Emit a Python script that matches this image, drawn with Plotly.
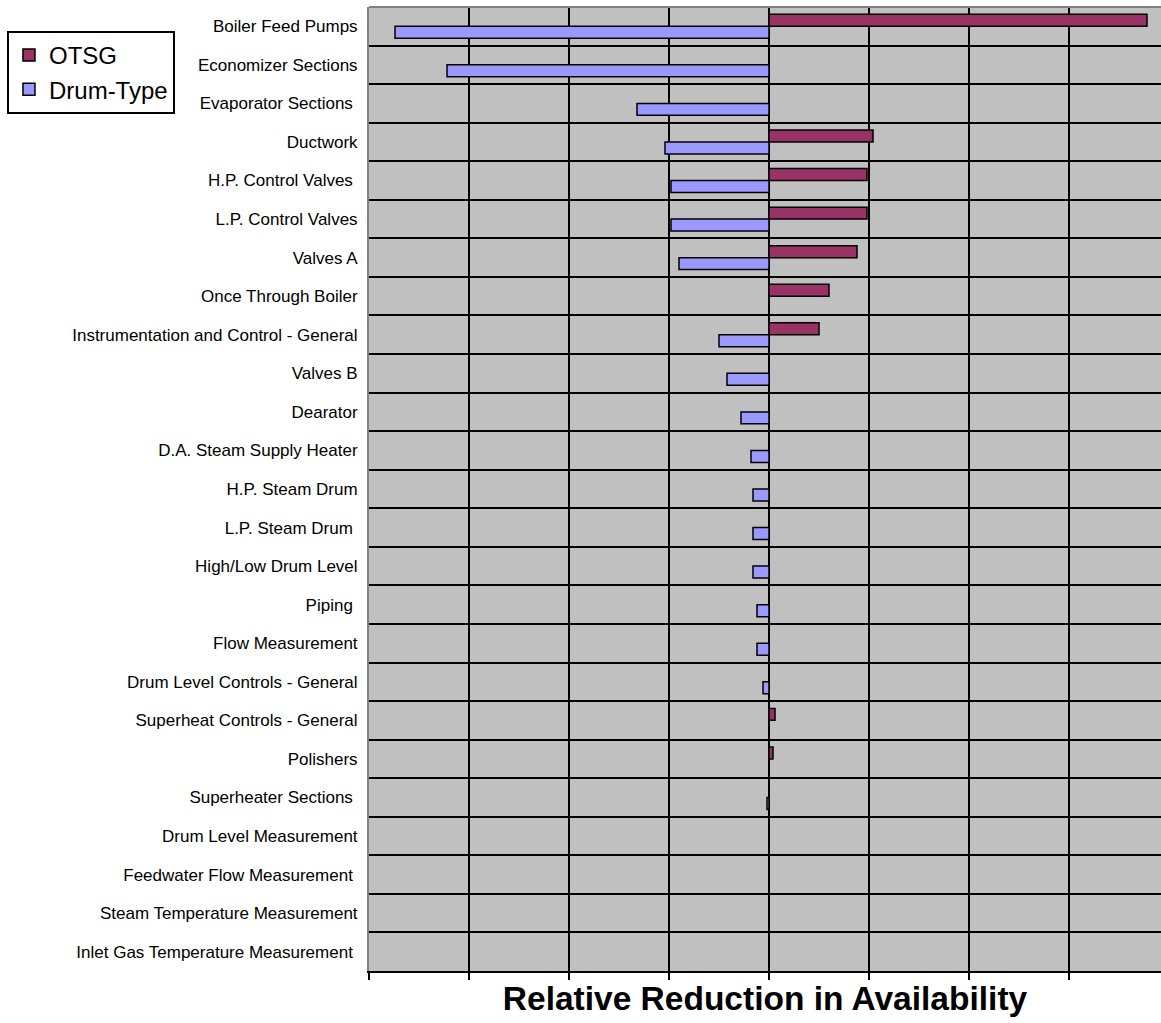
import plotly.graph_objects as go

# Components, top to bottom
components = [
    "Boiler Feed Pumps",
    "Economizer Sections",
    "Evaporator Sections ",
    "Ductwork",
    "H.P. Control Valves ",
    "L.P. Control Valves",
    "Valves A",
    "Once Through Boiler",
    "Instrumentation and Control - General",
    "Valves B",
    "Dearator",
    "D.A. Steam Supply Heater",
    "H.P. Steam Drum",
    "L.P. Steam Drum ",
    "High/Low Drum Level",
    "Piping ",
    "Flow Measurement",
    "Drum Level Controls - General",
    "Superheat Controls - General",
    "Polishers",
    "Superheater Sections ",
    "Drum Level Measurement",
    "Feedwater Flow Measurement ",
    "Steam Temperature Measurement",
    "Inlet Gas Temperature Measurement ",
]

# Relative reduction in availability per component
otsg = [3.78, 0, 0, 1.04, 0.98, 0.98, 0.88, 0.60, 0.50, 0, 0, 0, 0, 0, 0,
        0, 0, 0, 0.06, 0.04, 0, 0, 0, 0, 0]
drum_type = [-3.74, -3.22, -1.32, -1.04, -0.98, -0.98, -0.90, 0, -0.50, -0.42,
             -0.28, -0.18, -0.16, -0.16, -0.16, -0.12, -0.12, -0.06, 0, 0,
             -0.02, 0, 0, 0, 0]

fig = go.Figure()
fig.add_trace(go.Bar(
    name="OTSG", y=components, x=otsg, orientation="h",
    marker=dict(color="#993366", line=dict(color="black", width=1.5)),
))
fig.add_trace(go.Bar(
    name="Drum-Type", y=components, x=drum_type, orientation="h",
    marker=dict(color="#9999FF", line=dict(color="black", width=1.5)),
))

fig.update_layout(
    width=1161, height=1023,
    margin=dict(l=369, r=0, t=7, b=52, autoexpand=False),
    paper_bgcolor="white",
    plot_bgcolor="#C0C0C0",
    barmode="group",
    bargap=0.38,
    bargroupgap=0,
    font=dict(family="Liberation Sans, Arial, sans-serif", color="black"),
    legend=dict(
        xref="container", yref="container",
        x=0.006, y=0.9697, xanchor="left", yanchor="top",
        bgcolor="white", bordercolor="black", borderwidth=2,
        font=dict(size=24), traceorder="normal",
        tracegroupgap=0, itemwidth=30,
    ),
    xaxis=dict(
        range=[-4, 3.92], tick0=0, dtick=1,
        showticklabels=False, automargin=False,
        ticks="outside", ticklen=7, tickcolor="black", tickwidth=1.5,
        showgrid=True, gridcolor="black", gridwidth=2,
        zeroline=True, zerolinecolor="black", zerolinewidth=2,
        showline=True, linecolor="black", linewidth=2,
        title=dict(text="<b>Relative Reduction in Availability</b>",
                   font=dict(size=33.5), standoff=8),
    ),
    yaxis=dict(
        autorange=False, range=[24.5, -0.5],
        type="category", automargin=False,
        tickson="boundaries", ticks="", ticklen=0,
        showgrid=True, gridcolor="black", gridwidth=2,
        showline=True, linecolor="#808080", linewidth=2,
        tickfont=dict(size=17),
        ticklabelstandoff=6,
    ),
    shapes=[dict(type="line", xref="paper", yref="paper",
                 x0=0, x1=1, y0=1, y1=1,
                 line=dict(color="#808080", width=2), layer="above")],
)

fig.write_html("out.html")
